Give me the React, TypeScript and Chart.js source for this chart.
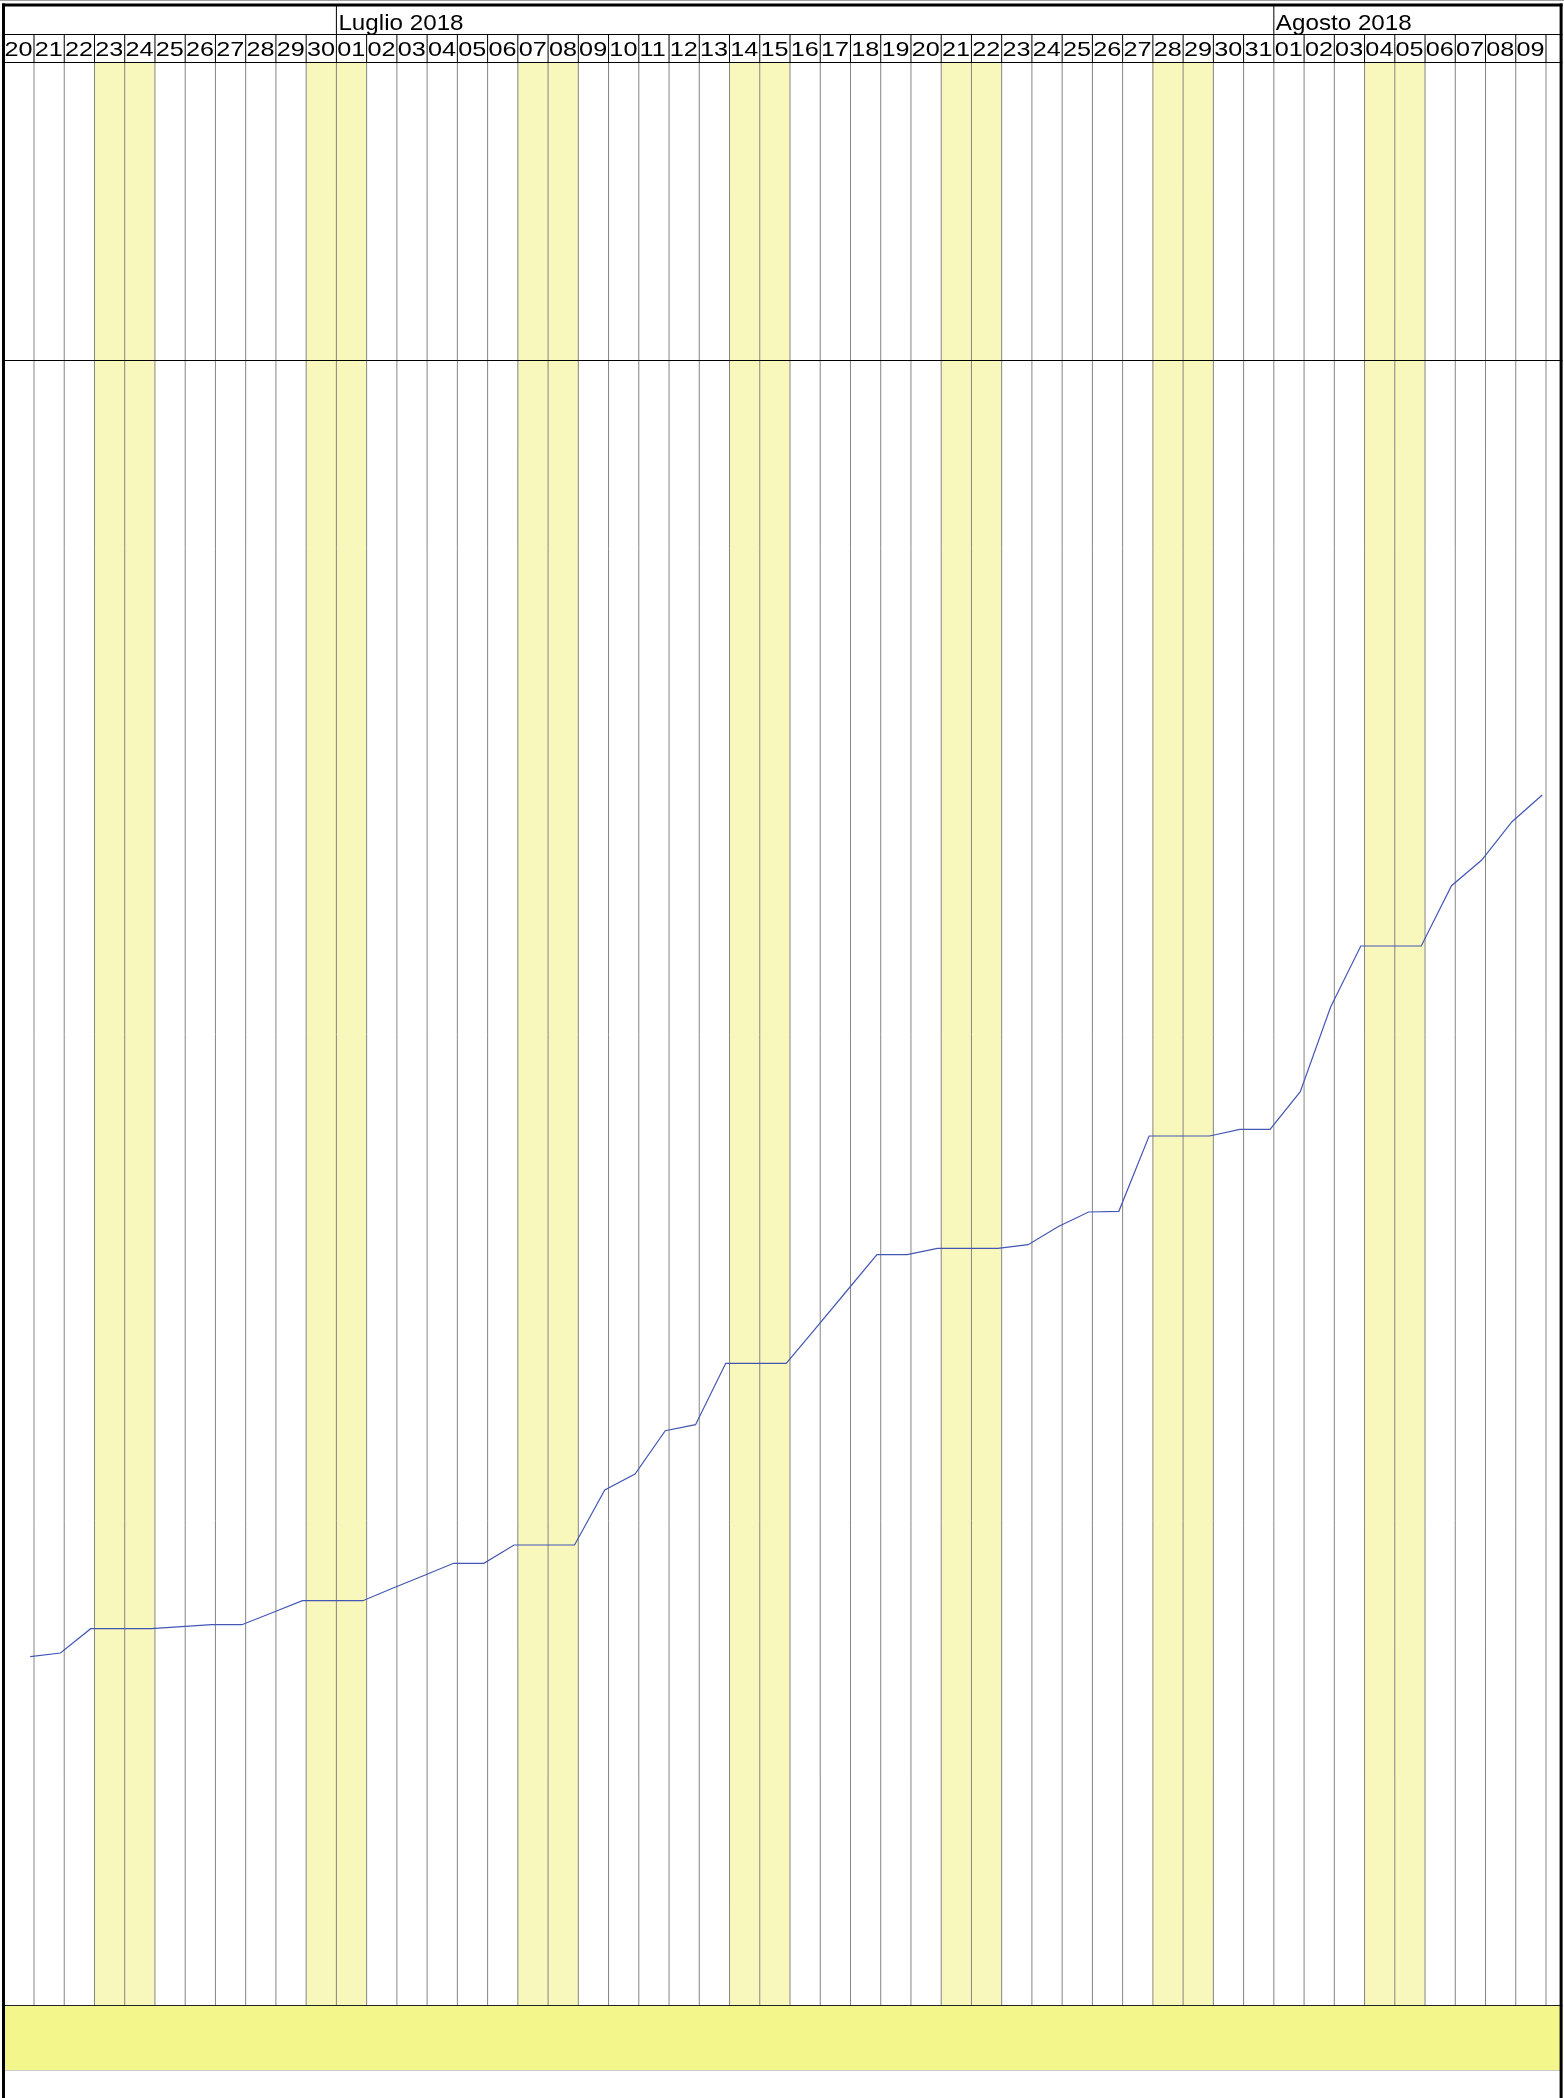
import React, { useEffect, useRef } from 'react';
import { Chart, registerables } from 'chart.js';

Chart.register(...registerables);

// ---- Data ----
const DAY_LABELS = [
  '20', '21', '22', '23', '24', '25', '26', '27', '28', '29', '30',
  '01', '02', '03', '04', '05', '06', '07', '08', '09', '10', '11', '12', '13', '14', '15',
  '16', '17', '18', '19', '20', '21', '22', '23', '24', '25', '26', '27', '28', '29', '30', '31',
  '01', '02', '03', '04', '05', '06', '07', '08', '09',
];
const MONTH_LABELS = ['Luglio 2018', 'Agosto 2018'];
const MONTH_START_INDEX = [11, 42];
const WEEKEND_INDEX = [3, 4, 10, 11, 17, 18, 24, 25, 31, 32, 38, 39, 45, 46];
const SERIES_VALUES = [
  349.3, 353, 377.3, 377.3, 377.3, 379.3, 381.3, 381.3, 393.3, 405.3, 405.3,
  405.3, 418, 430.3, 442.7, 442.7, 461, 461, 461, 516, 532, 575.3, 581.3, 642.7, 642.7, 642.7,
  678.6, 715, 751.3, 751.3, 757.7, 757.7, 757.7, 761.3, 779.5, 794, 794.7, 870, 870, 870, 876.7, 876.7,
  914.3, 998.7, 1060, 1060, 1060, 1120.3, 1146, 1184.3, 1211,
];
const REFERENCE_LEVEL = 1646;
const SAMPLE_TIME = 0.875; // fraction of the day at which each sample is taken
const Y_MAX = 1943;
const X_MAX = 51.5;

// ---- Styles ----
const W = 1564;
const H = 2098;
const BAND = '#f8f8bd';
const GRID = '#858585';
const FOOT = '#f3f68a';
const LINE = '#4456b4';
const FONT = '"Liberation Sans", Arial, sans-serif';

const ganttPlugin = {
  id: 'gantt',
  beforeDraw(chart: any) {
    const { ctx, chartArea: a, scales } = chart;
    const x = scales.x;
    const y = scales.y;
    ctx.save();
    ctx.fillStyle = '#ffffff';
    ctx.fillRect(0, 0, chart.width, chart.height);

    // weekend bands
    ctx.fillStyle = BAND;
    for (const i of WEEKEND_INDEX) {
      const l = x.getPixelForValue(i);
      const r = x.getPixelForValue(i + 1);
      ctx.fillRect(l, a.top, r - l, a.bottom - a.top);
    }

    // day grid lines
    ctx.strokeStyle = GRID;
    ctx.lineWidth = 1;
    ctx.beginPath();
    for (let i = 1; i <= DAY_LABELS.length; i++) {
      const px = x.getPixelForValue(i);
      ctx.moveTo(px, a.top);
      ctx.lineTo(px, a.bottom);
    }
    ctx.stroke();

    // reference horizontal line
    const ry = Math.round(y.getPixelForValue(REFERENCE_LEVEL)) + 0.5;
    ctx.strokeStyle = '#000000';
    ctx.beginPath();
    ctx.moveTo(0, ry);
    ctx.lineTo(W, ry);
    ctx.stroke();
    ctx.restore();
  },
  afterDraw(chart: any) {
    const { ctx, chartArea: a, scales } = chart;
    const x = scales.x;
    ctx.save();

    const rowSep = 34.5;
    const headBottom = a.top - 0.5;

    // header background
    ctx.fillStyle = '#ffffff';
    ctx.fillRect(0, 0, W, a.top - 0.5);

    // top faint page line
    ctx.fillStyle = '#a0a0a0';
    ctx.fillRect(0, 0, W, 1);

    // header horizontal lines
    ctx.strokeStyle = '#000000';
    ctx.lineWidth = 1;
    ctx.beginPath();
    ctx.moveTo(0, rowSep);
    ctx.lineTo(W, rowSep);
    ctx.moveTo(0, headBottom);
    ctx.lineTo(W, headBottom);
    ctx.stroke();

    // day separators (row 2)
    ctx.beginPath();
    for (let i = 1; i <= DAY_LABELS.length; i++) {
      const px = x.getPixelForValue(i);
      ctx.moveTo(px, rowSep);
      ctx.lineTo(px, headBottom);
    }
    // month separators (row 1)
    for (const s of MONTH_START_INDEX) {
      const px = x.getPixelForValue(s);
      ctx.moveTo(px, 6);
      ctx.lineTo(px, rowSep);
    }
    ctx.stroke();

    // day labels
    ctx.fillStyle = '#000000';
    ctx.textBaseline = 'alphabetic';
    ctx.textAlign = 'left';
    ctx.font = '21px ' + FONT;
    DAY_LABELS.forEach((lab, i) => {
      const l = x.getPixelForValue(i);
      ctx.save();
      ctx.translate(l + 0.8, 56);
      ctx.scale(1.2, 1);
      ctx.fillText(lab, 0, 0);
      ctx.restore();
    });

    // month labels
    ctx.font = '22px ' + FONT;
    MONTH_LABELS.forEach((lab, k) => {
      const l = x.getPixelForValue(MONTH_START_INDEX[k]);
      ctx.save();
      ctx.translate(l + 2, 30);
      ctx.scale(1.1, 1);
      ctx.fillText(lab, 0, 0);
      ctx.restore();
    });

    // bottom band
    ctx.fillStyle = FOOT;
    ctx.fillRect(0, a.bottom, W, 64);
    ctx.strokeStyle = '#222222';
    ctx.beginPath();
    ctx.moveTo(0, a.bottom - 0.5);
    ctx.lineTo(W, a.bottom - 0.5);
    ctx.stroke();
    ctx.strokeStyle = '#cccccc';
    ctx.beginPath();
    ctx.moveTo(0, a.bottom + 64.5);
    ctx.lineTo(W, a.bottom + 64.5);
    ctx.stroke();

    // white margin outside the frame
    ctx.fillStyle = '#ffffff';
    ctx.fillRect(0, 1, 2, H);
    ctx.fillRect(1562.5, 1, W - 1562.5, H);

    // outer frame
    ctx.fillStyle = '#000000';
    ctx.fillRect(2, 3.5, 1560.5, 3);
    ctx.fillRect(2, 3.5, 3, H);
    ctx.fillRect(1559.6, 3.5, 3, H);

    ctx.restore();
  },
};

export default function App() {
  const ref = useRef<HTMLCanvasElement | null>(null);

  useEffect(() => {
    document.body.style.margin = '0';
    const canvas = ref.current;
    if (!canvas) return;
    const chart = new Chart(canvas, {
      type: 'line',
      data: {
        datasets: [
          {
            data: SERIES_VALUES.map((v, i) => ({ x: i + SAMPLE_TIME, y: v })),
            borderColor: LINE,
            borderWidth: 1.2,
            pointRadius: 0,
            tension: 0,
            fill: false,
          },
        ],
      },
      options: {
        responsive: false,
        maintainAspectRatio: false,
        devicePixelRatio: 1,
        animation: false,
        events: [],
        layout: { padding: { left: 3.76, right: W - (3.76 + X_MAX * 30.24), top: 63, bottom: 92 } },
        plugins: { legend: { display: false }, tooltip: { enabled: false } },
        scales: {
          x: { type: 'linear', min: 0, max: X_MAX, display: false },
          y: { type: 'linear', min: 0, max: Y_MAX, display: false },
        },
      },
      plugins: [ganttPlugin],
    });
    return () => chart.destroy();
  }, []);

  return (
    <div style={{ width: W, height: H }}>
      <canvas ref={ref} width={W} height={H} style={{ display: 'block', width: W, height: H }} />
    </div>
  );
}
